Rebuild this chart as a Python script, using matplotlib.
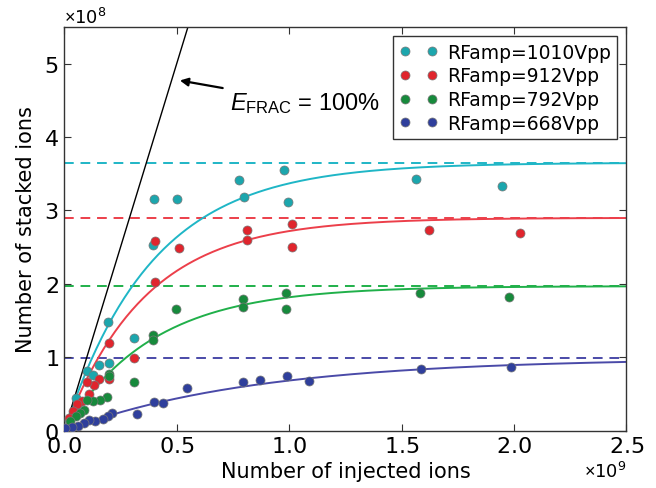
import numpy as np
import matplotlib
matplotlib.use("Agg")
import matplotlib.pyplot as plt

# ---- data (x in ions injected, y in ions stacked) ----
labels = ["RFamp=1010Vpp", "RFamp=912Vpp", "RFamp=792Vpp", "RFamp=668Vpp"]

cyan_x = [0.393, 0.40, 0.502, 0.778, 0.799, 0.976, 0.997, 1.563, 1.948,
          0.193, 0.311, 0.156, 0.199, 0.102, 0.129, 0.05, 0.02]
cyan_y = [2.53, 3.15, 3.15, 3.42, 3.18, 3.55, 3.11, 3.43, 3.34,
          1.477, 1.26, 0.90, 0.92, 0.82, 0.76, 0.45, 0.15]

red_x = [0.403, 0.508, 0.405, 0.812, 0.812, 1.013, 1.013, 1.622, 2.025,
         0.20, 0.311, 0.156, 0.199, 0.132, 0.102, 0.111, 0.077, 0.058, 0.04, 0.02]
red_y = [2.59, 2.49, 2.03, 2.73, 2.60, 2.81, 2.50, 2.73, 2.69,
         1.19, 0.99, 0.70, 0.70, 0.63, 0.67, 0.50, 0.41, 0.36, 0.27, 0.18]

green_x = [0.496, 0.793, 0.793, 0.988, 0.988, 1.581, 1.978,
           0.396, 0.396, 0.311, 0.20, 0.20, 0.188, 0.158, 0.126, 0.102,
           0.088, 0.068, 0.050, 0.025]
green_y = [1.66, 1.80, 1.69, 1.87, 1.66, 1.87, 1.82,
           1.30, 1.24, 0.665, 0.78, 0.74, 0.454, 0.415, 0.40, 0.418,
           0.28, 0.24, 0.20, 0.14]

blue_x = [0.544, 0.796, 0.87, 0.991, 1.089, 1.585, 1.985,
          0.323, 0.398, 0.438, 0.213, 0.196, 0.17, 0.136, 0.111, 0.087,
          0.062, 0.033, 0.005]
blue_y = [0.58, 0.66, 0.69, 0.75, 0.677, 0.84, 0.863,
          0.23, 0.39, 0.38, 0.24, 0.20, 0.155, 0.14, 0.15, 0.105,
          0.067, 0.05, 0.04]

# saturation levels (dashed) and fit time constants
sat = [3.65, 2.90, 1.97, 0.99]
tau = [0.39, 0.36, 0.39, 0.85]

xs_all = [cyan_x, red_x, green_x, blue_x]
ys_all = [cyan_y, red_y, green_y, blue_y]

marker_colors = ["#1ca6ad", "#e0252d", "#178a3c", "#2f3f9c"]
line_colors = ["#1fb6c6", "#ec3f4a", "#20b04a", "#4a4aa8"]

plt.rcParams['mathtext.fontset'] = 'custom'
plt.rcParams['mathtext.rm'] = 'Liberation Sans'
plt.rcParams['mathtext.it'] = 'Liberation Sans:italic'

fig = plt.figure(figsize=(6.56, 4.89), dpi=100)
ax = fig.add_axes([0.098, 0.117, 0.857, 0.826])

xf = np.linspace(0, 2.5, 300)
for xs, ys, A, t, mc, lc, lab in zip(xs_all, ys_all, sat, tau, marker_colors, line_colors, labels):
    ax.axhline(A * 1e8, color=lc, ls=(0, (5, 3.5)), lw=1.4, zorder=1)
    ax.plot(xf * 1e9, A * (1 - np.exp(-xf / t)) * 1e8, color=lc, lw=1.4, zorder=2)
    ax.plot(np.array(xs) * 1e9, np.array(ys) * 1e8, 'o', ms=6.5, mfc=mc,
            mec='#777777', mew=0.5, ls='none', label=lab, zorder=3)

# 100% line
ax.plot([0, 2.5e9], [0, 2.5e9], color='black', lw=1.0, zorder=2)

ax.annotate(r'$\mathit{E}_{\mathrm{FRAC}}$ = 100%', xy=(0.514e9, 4.77e8), xytext=(0.735e9, 4.47e8),
            fontsize=17, family='Liberation Sans', va='center', ha='left',
            arrowprops=dict(arrowstyle='-|>', color='black', lw=1.6, mutation_scale=12,
                            shrinkA=3, shrinkB=0))

ax.set_xlim(0, 2.5e9)
ax.set_ylim(0, 5.5e8)
ax.set_xticks([0, 0.5e9, 1.0e9, 1.5e9, 2.0e9, 2.5e9])
ax.set_yticks([0, 1e8, 2e8, 3e8, 4e8, 5e8])
ax.ticklabel_format(style='sci', scilimits=(0, 0), useMathText=True)
ax.xaxis.get_offset_text().set_fontsize(13)
ax.yaxis.get_offset_text().set_fontsize(13)
ax.tick_params(direction='in', top=True, right=True, labelsize=16, length=5, width=0.8,
               color='#333333', pad=4)
for s in ax.spines.values():
    s.set_color('#333333')
    s.set_linewidth(1.0)

ax.set_xlabel('Number of injected ions', fontsize=15, labelpad=3)
ax.set_ylabel('Number of stacked ions', fontsize=15, labelpad=6)

leg = ax.legend(loc='upper right', numpoints=2, fontsize=13.5, fancybox=False,
                framealpha=1, edgecolor='#333333', borderaxespad=0.5,
                handletextpad=0.5, handlelength=2.0, labelspacing=0.25, borderpad=0.35)
leg.get_frame().set_linewidth(1.0)

fig.savefig('out.png', dpi=100)
